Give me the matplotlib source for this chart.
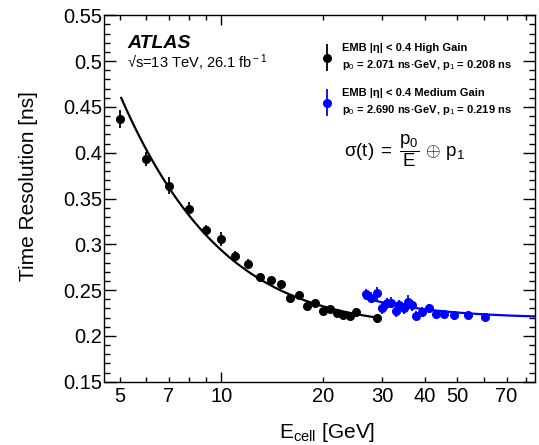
import numpy as np
import matplotlib
matplotlib.use('Agg')
import matplotlib.pyplot as plt
from matplotlib.ticker import FixedLocator, FuncFormatter, MultipleLocator
from matplotlib.legend_handler import HandlerErrorbar
from matplotlib.container import ErrorbarContainer

plt.rcParams['font.family'] = ['Liberation Sans', 'DejaVu Sans']
plt.rcParams['mathtext.fontset'] = 'custom'
plt.rcParams['mathtext.rm'] = 'Liberation Sans'
plt.rcParams['mathtext.it'] = 'Liberation Sans'
plt.rcParams['mathtext.bf'] = 'Liberation Sans:bold'
plt.rcParams['mathtext.sf'] = 'Liberation Sans'

# ---- data ----
E_high = [5, 6, 7, 8, 9, 10, 11, 12, 13, 14, 15, 16, 17, 18, 19, 20, 21, 22, 23, 24, 25, 29]
res_high = [0.4365, 0.393, 0.364, 0.339, 0.316, 0.3055, 0.2876, 0.2785, 0.2643, 0.2607, 0.2563,
            0.241, 0.2447, 0.2326, 0.2356, 0.2275, 0.229, 0.2253, 0.2228, 0.222, 0.226, 0.2195]
err_high = [0.0097, 0.008, 0.009, 0.0067, 0.0055, 0.0076, 0.005, 0.005, 0.004, 0.004, 0.004,
            0.004, 0.004, 0.004, 0.004, 0.004, 0.004, 0.004, 0.004, 0.004, 0.005, 0.004]

E_med = [26.8, 27.7, 28.9, 29.9, 30.9, 31.8, 32.9, 33.7, 34.8, 35.7, 36.7, 37.7, 39.2, 41.3,
         43.2, 45.7, 49.0, 53.7, 60.6]
res_med = [0.2457, 0.2417, 0.2465, 0.230, 0.2356, 0.2363, 0.227, 0.2337, 0.230, 0.2373, 0.2337,
           0.222, 0.2264, 0.230, 0.2236, 0.2236, 0.2228, 0.2228, 0.2206]
err_med = [0.006, 0.006, 0.007, 0.006, 0.006, 0.006, 0.006, 0.006, 0.006, 0.007, 0.006,
           0.005, 0.005, 0.005, 0.005, 0.004, 0.004, 0.004, 0.003]

p_high = [2.071, 0.208]
p_med = [2.690, 0.219]
fit_range_high = [5.05, 29.0]
fit_range_med = [26.6, 85.0]

x_tick_labels = [5, 7, 10, 20, 30, 40, 50, 70]
x_minor = [5, 6, 7, 8, 9, 20, 30, 40, 50, 60, 70, 80]
x_major = [10]


def fit(E, p):
    E = np.asarray(E)
    return np.sqrt((p[0] / E) ** 2 + p[1] ** 2)


fig = plt.figure(figsize=(5.39, 4.45), dpi=100)
ax = fig.add_axes([104.3 / 539, 1 - 381.7 / 445, (535 - 104.3) / 539, (381.7 - 15.3) / 445])

ax.set_xscale('log')
ax.set_xlim(4.5, 85)
ax.set_ylim(0.15, 0.55)

Eh = np.geomspace(*fit_range_high, 300)
Em = np.geomspace(*fit_range_med, 300)
ax.plot(Eh, fit(Eh, p_high), color='black', lw=1.6, zorder=2)
ax.plot(Em, fit(Em, p_med), color='#0000ff', lw=1.6, zorder=2)

lab_high = "EMB |η| < 0.4 High Gain\np$_0$ = %.3f ns·GeV, p$_1$ = %.3f ns" % (p_high[0], p_high[1])
lab_med = "EMB |η| < 0.4 Medium Gain\np$_0$ = %.3f ns·GeV, p$_1$ = %.3f ns" % (p_med[0], p_med[1])

eb1 = ax.errorbar(E_high, res_high, yerr=err_high, fmt='o', color='black', ms=5.5,
                  elinewidth=1.3, capsize=0, zorder=3, label=lab_high)
eb2 = ax.errorbar(E_med, res_med, yerr=err_med, fmt='o', color='#0000ff', ms=5.5,
                  elinewidth=1.3, capsize=0, zorder=3, label=lab_med)

# ticks
ax.xaxis.set_major_locator(FixedLocator(x_major))
ax.xaxis.set_minor_locator(FixedLocator(x_minor))
fmt = FuncFormatter(lambda v, p: ("%g" % v) if any(abs(v - t) < 1e-6 for t in x_tick_labels) else "")
ax.xaxis.set_major_formatter(fmt)
ax.xaxis.set_minor_formatter(fmt)
ax.yaxis.set_major_locator(MultipleLocator(0.05))
ax.yaxis.set_minor_locator(MultipleLocator(0.01))
ax.yaxis.set_major_formatter(FuncFormatter(lambda v, p: "%g" % round(v, 3)))

ax.tick_params(axis='both', which='both', direction='in', top=True, right=True,
               labelsize=14.5, width=1.0, colors='black')
ax.tick_params(axis='x', which='major', length=7.2, pad=4)
ax.tick_params(axis='x', which='minor', length=3.6, pad=4)
ax.tick_params(axis='y', which='major', length=8.6, pad=1.5)
ax.tick_params(axis='y', which='minor', length=4.3, pad=1.5)
for s in ax.spines.values():
    s.set_linewidth(1.0)

ax.set_ylabel("Time Resolution [ns]", fontsize=15)
ax.yaxis.set_label_coords(-0.177, 0.533)
ax.yaxis.label.set_va('center')
ax.set_xlabel(r"E$_{\rm cell}$ [GeV]", fontsize=15)
ax.xaxis.set_label_coords(0.517, -0.14)
ax.xaxis.label.set_va('center')

# texts
ax.text(0.0527, 0.9116, "ATLAS", transform=ax.transAxes, fontsize=14, fontweight='bold',
        fontstyle='italic', va='baseline', ha='left')
ax.text(0.0527, 0.8553, "√s=13 TeV, 26.1 fb$^{\\rm -1}$", transform=ax.transAxes,
        fontsize=10.5, va='baseline', ha='left')
ax.text(0.5565, 0.632, r"$\sigma(t)\;=\;\dfrac{p_0}{E}\,\oplus\,p_1$", transform=ax.transAxes,
        fontsize=13.5, va='center', ha='left')

leg = ax.legend(handles=[eb1, eb2], loc='upper left', bbox_to_anchor=(0.5036, 0.925),
                frameon=False, prop={'weight': 'bold', 'size': 8}, handlelength=1.0,
                handletextpad=0.85, borderpad=0, borderaxespad=0, labelspacing=1.4,
                handler_map={ErrorbarContainer: HandlerErrorbar(xerr_size=1.2)})
for t in leg.get_texts():
    t.set_linespacing(1.55)

fig.savefig('out.png', dpi=100)
